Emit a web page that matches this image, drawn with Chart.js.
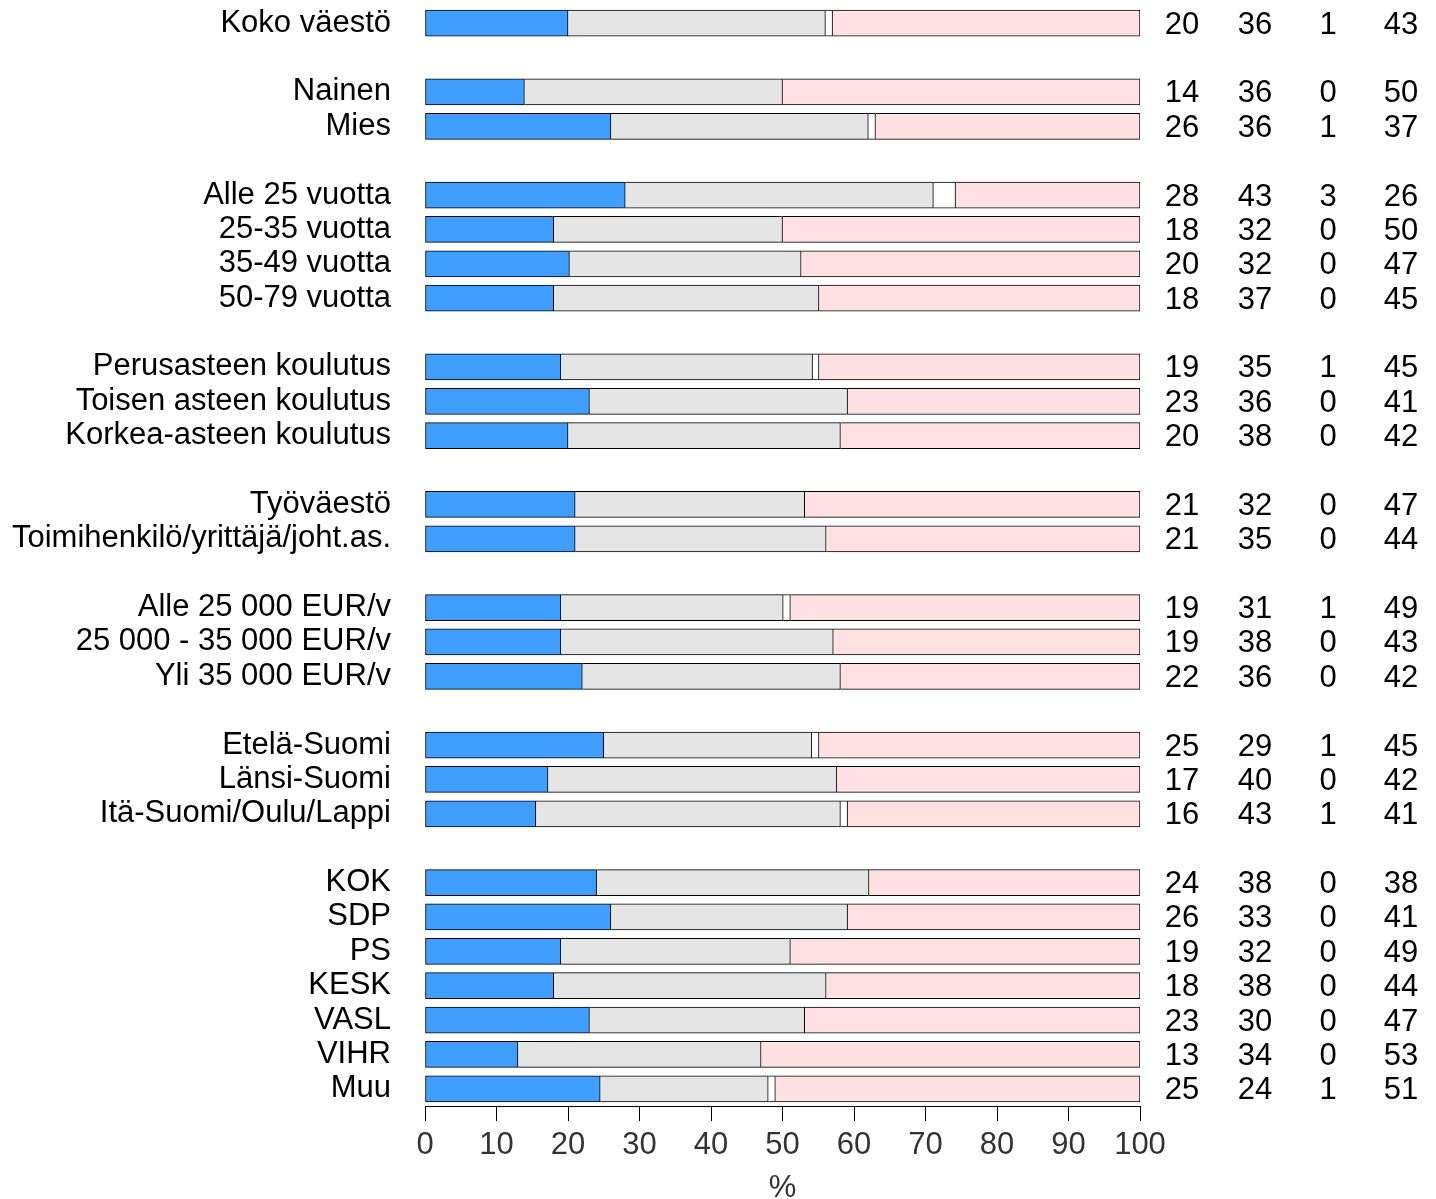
<!DOCTYPE html>
<html>
<head>
<meta charset="utf-8">
<script src="https://cdn.jsdelivr.net/npm/chart.js@4/dist/chart.umd.min.js"></script>
<style>
  body { margin: 0; background: #fff; }
  canvas { display: block; }
</style>
</head>
<body>
<canvas id="barChart" width="1436" height="1199"></canvas>
<script>
// rows, empty strings are the gaps between groups
var labels = ['Koko väestö', '',
    'Nainen', 'Mies', '',
    'Alle 25 vuotta', '25-35 vuotta', '35-49 vuotta', '50-79 vuotta', '',
    'Perusasteen koulutus', 'Toisen asteen koulutus', 'Korkea-asteen koulutus', '',
    'Työväestö', 'Toimihenkilö/yrittäjä/joht.as.', '',
    'Alle 25 000 EUR/v', '25 000 - 35 000 EUR/v', 'Yli 35 000 EUR/v', '',
    'Etelä-Suomi', 'Länsi-Suomi', 'Itä-Suomi/Oulu/Lappi', '',
    'KOK', 'SDP', 'PS', 'KESK', 'VASL', 'VIHR', 'Muu'];

var blueVals  = [20, null, 13.9, 26, null, 28, 18, 20.2, 18, null, 19, 23, 20, null, 21, 21, null, 19, 19, 22, null, 25, 17.2, 15.5, null, 24, 26, 19, 18, 23, 13, 24.5];
var greyVals  = [36, null, 36.1, 36, null, 43.1, 32, 32.4, 37.1, null, 35.2, 36.1, 38.1, null, 32.1, 35.1, null, 31.1, 38.1, 36.1, null, 29.1, 40.4, 42.6, null, 38.1, 33.1, 32.1, 38.1, 30.1, 34, 23.5];
var whiteVals = [1, null, 0, 1, null, 3.1, 0, 0, 0, null, 0.9, 0, 0, null, 0, 0, null, 1, 0, 0, null, 1, 0, 1, null, 0, 0, 0, 0, 0, 0, 1];
var pinkVals  = [43, null, 50, 37, null, 25.8, 50, 47.4, 44.9, null, 44.9, 40.9, 41.9, null, 46.9, 43.9, null, 48.9, 42.9, 41.9, null, 44.9, 42.4, 40.9, null, 37.9, 40.9, 48.9, 43.9, 46.9, 53, 51];

var xTicks = [0, 10, 20, 30, 40, 50, 60, 70, 80, 90, 100];

var fontFam = '"Liberation Sans", Arial, sans-serif';
var fontSize = 31;
var edge = '#000';

// the four number columns at the right of the bars
var numberColumns = {
    id: 'numberColumns',
    afterDatasetsDraw: function (chart) {
        var ctx = chart.ctx;
        var yScale = chart.scales.y;
        var colX = [1182, 1255, 1328, 1401];
        ctx.save();
        ctx.font = fontSize + 'px ' + fontFam;
        ctx.fillStyle = '#000';
        ctx.textAlign = 'center';
        ctx.textBaseline = 'middle';
        for (var i = 0; i < labels.length; i++) {
            if (blueVals[i] === null) continue;
            var y = yScale.getPixelForValue(i) + 2;
            chart.data.datasets.forEach(function (ds, k) {
                ctx.fillText(String(Math.round(ds.data[i])), colX[k], y);
            });
        }
        ctx.restore();
    }
};

var ctx = document.getElementById('barChart').getContext('2d');
var myChart = new Chart(ctx, {
    type: 'bar',
    data: {
        labels: labels,
        datasets: [
            { label: 'a', data: blueVals, backgroundColor: '#409eff', borderSkipped: false },
            { label: 'b', data: greyVals, backgroundColor: '#e5e5e5', borderSkipped: 'start' },
            { label: 'c', data: whiteVals, backgroundColor: '#ffffff', borderSkipped: 'start' },
            { label: 'd', data: pinkVals, backgroundColor: '#ffe1e4', borderSkipped: 'start' }
        ]
    },
    options: {
        responsive: false,
        animation: false,
        indexAxis: 'y',
        datasets: {
            bar: { barThickness: 26, borderWidth: 1, borderColor: edge }
        },
        layout: { padding: { top: 6, right: 296, left: 0, bottom: 0 } },
        plugins: {
            legend: { display: false },
            tooltip: { enabled: false }
        },
        scales: {
            x: {
                stacked: true,
                min: 0,
                max: 100,
                afterBuildTicks: function (scale) {
                    scale.ticks = xTicks.map(function (v) { return { value: v }; });
                },
                ticks: { color: '#333', font: { size: fontSize, family: fontFam }, padding: 6, maxRotation: 0, autoSkip: false },
                grid: { drawOnChartArea: false, drawTicks: true, tickLength: 15, color: '#000', lineWidth: 1 },
                border: { display: true, color: '#000', width: 1 },
                title: { display: true, text: '%', color: '#333', font: { size: fontSize, family: fontFam, lineHeight: 0.7 }, padding: 0 },
                afterFit: function (scale) {
                    scale.height = 93;
                    scale.paddingLeft = 0;
                    scale.paddingRight = 0;
                }
            },
            y: {
                stacked: true,
                ticks: { color: '#000', font: { size: fontSize, family: fontFam }, padding: 34, autoSkip: false },
                grid: { display: false, drawTicks: false },
                border: { display: false },
                afterFit: function (scale) {
                    scale.width = 425;
                    scale.paddingTop = 0;
                    scale.paddingBottom = 0;
                }
            }
        }
    },
    plugins: [numberColumns]
});
</script>
</body>
</html>
